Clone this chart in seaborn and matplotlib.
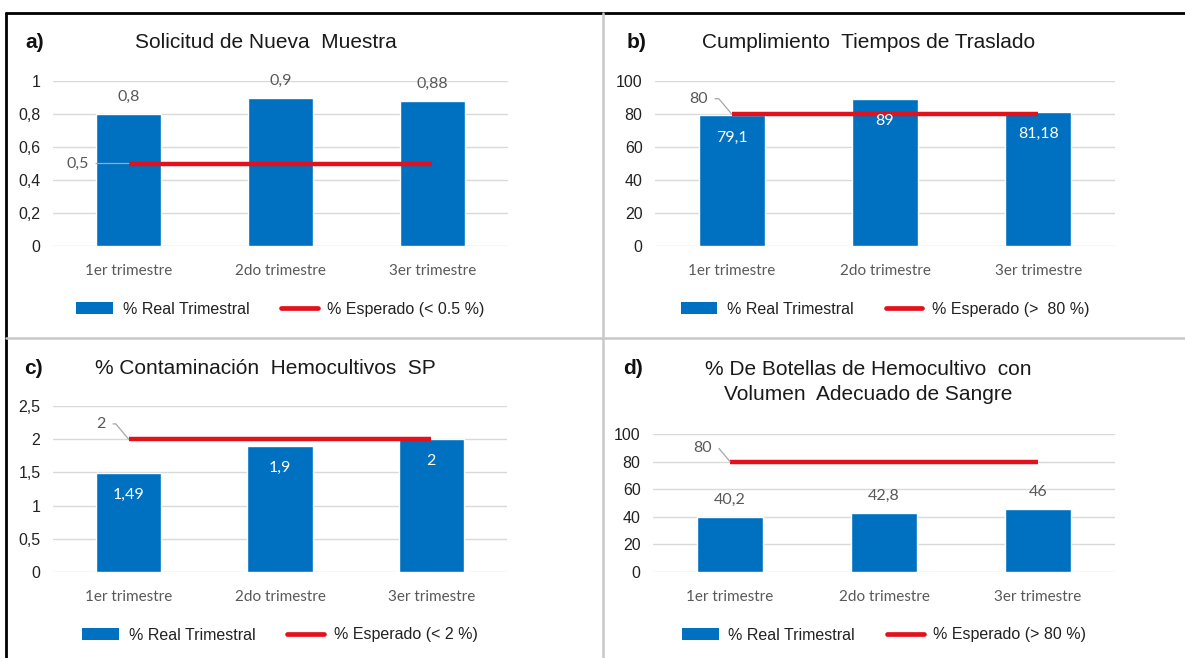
import matplotlib
matplotlib.use("Agg")
import matplotlib.pyplot as plt
from matplotlib.lines import Line2D
from matplotlib.patches import Patch
import seaborn as sns

# ---- data -------------------------------------------------------------
quarters = ["1er trimestre", "2do trimestre", "3er trimestre"]

real_a = [0.8, 0.9, 0.88]
target_a = [0.5, 0.5, 0.5]

real_b = [79.1, 89, 81.18]
target_b = [80, 80, 80]

real_c = [1.49, 1.9, 2]
target_c = [2, 2, 2]

real_d = [40.2, 42.8, 46]
target_d = [80, 80, 80]

titles = [
    "Solicitud de Nueva  Muestra",
    "Cumplimiento  Tiempos de Traslado",
    "% Contaminación  Hemocultivos  SP",
    "% De Botellas de Hemocultivo  con\nVolumen  Adecuado de Sangre",
]
panel_tags = ["a)", "b)", "c)", "d)"]
legend_real = "% Real Trimestral"
legend_target = ["% Esperado (< 0.5 %)", "% Esperado (>  80 %)",
                 "% Esperado (< 2 %)", "% Esperado (> 80 %)"]
yticks = [
    [0, 0.2, 0.4, 0.6, 0.8, 1],
    [0, 20, 40, 60, 80, 100],
    [0, 0.5, 1, 1.5, 2, 2.5],
    [0, 20, 40, 60, 80, 100],
]

# ---- style ------------------------------------------------------------
BLUE = "#0070C0"
RED = "#E3111B"
GRID = "#D9D9D9"
LABEL = "#595959"
LEADER = "#A6A6A6"
SANS = ["Liberation Sans", "DejaVu Sans"]
NUM = ["Lato", "DejaVu Sans"]

sns.set_theme(style="white")
plt.rcParams["font.family"] = SANS

W, H = 1185, 658
fig = plt.figure(figsize=(W / 100, H / 100), dpi=100)
fig.patch.set_facecolor("white")


def px_axes(x0, y0, x1, y1):
    return fig.add_axes([x0 / W, 1 - y1 / H, (x1 - x0) / W, (y1 - y0) / H])


def fmt(v):
    return f"{v:g}".replace(".", ",")


panels = [
    dict(real=real_a, target=target_a, box=(53, 81, 508, 246), inside=False,
         lead=(-37, 0), title_xy=(266, 42), tag_xy=(35, 42), legend_y=309),
    dict(real=real_b, target=target_b, box=(655, 81, 1115, 246), inside=True,
         lead=(-24, 11), title_xy=(869, 42), tag_xy=(637, 42), legend_y=309),
    dict(real=real_c, target=target_c, box=(53, 406, 507, 572), inside=True,
         lead=(-20, 11), title_xy=(265, 368), tag_xy=(33, 368), legend_y=635),
    dict(real=real_d, target=target_d, box=(653, 434, 1115, 572), inside=False,
         lead=(-20, 10), title_xy=(868, 382), tag_xy=(633, 368), legend_y=635),
]

for i, p in enumerate(panels):
    x0, y0, x1, y1 = p["box"]
    ax = px_axes(x0, y0, x1, y1)
    sns.barplot(x=quarters, y=p["real"], ax=ax, color=BLUE, saturation=1,
                width=0.43, zorder=2)
    ax.plot(range(len(quarters)), p["target"], color=RED, lw=3.2,
            solid_capstyle="butt", zorder=3)

    ticks = yticks[i]
    ax.set_ylim(ticks[0], ticks[-1])
    ax.set_xlim(-0.5, len(quarters) - 0.5)
    ax.set_yticks(ticks)
    ax.set_yticklabels([fmt(t) for t in ticks], fontsize=11.5, color="#222222",
                       family=SANS)
    ax.set_xticks(range(len(quarters)))
    ax.set_xticklabels(quarters, fontsize=11, color=LABEL, family=NUM)
    ax.tick_params(axis="x", length=0, pad=13)
    ax.tick_params(axis="y", length=0, pad=9)
    ax.set_xlabel("")
    ax.set_ylabel("")
    ax.grid(axis="y", color=GRID, lw=1, zorder=0)
    ax.set_axisbelow(True)
    for s in ax.spines.values():
        s.set_visible(False)

    # value labels on the bars
    if p["inside"]:
        ax.bar_label(ax.containers[0], labels=[fmt(v) for v in p["real"]],
                     padding=-21, color="white", fontsize=11.5, family=NUM)
    else:
        ax.bar_label(ax.containers[0], labels=[fmt(v) for v in p["real"]],
                     padding=7, color=LABEL, fontsize=11.5, family=NUM)

    # label for the expected value, with a leader line
    dx, dy = p["lead"]
    arrow = dict(arrowstyle="-", color=LEADER, lw=0.9, shrinkA=3, shrinkB=0)
    if dy != 0:
        arrow["connectionstyle"] = "angle,angleA=0,angleB=130,rad=0"
    ax.annotate(fmt(p["target"][0]), xy=(0, p["target"][0]),
                xytext=(dx, dy), textcoords="offset points",
                ha="center", va="center", color=LABEL, fontsize=11.5,
                family=NUM, annotation_clip=False, arrowprops=arrow)

    # legend under the axes
    handles = [Patch(facecolor=BLUE, edgecolor="none"),
               Line2D([0], [0], color=RED, lw=3.4)]
    leg_y = (y1 - p["legend_y"]) / (y1 - y0)
    ax.legend(handles, [legend_real, legend_target[i]], loc="center",
              bbox_to_anchor=(0.5, leg_y), ncol=2, frameon=False,
              fontsize=11.5, handlelength=2.3, handleheight=0.85,
              handletextpad=0.6, columnspacing=2.0, labelcolor="#222222")

    tx, ty = p["title_xy"]
    fig.text(tx / W, 1 - ty / H, titles[i], ha="center", va="center",
             fontsize=15, color="#1a1a1a", linespacing=1.45)
    gx, gy = p["tag_xy"]
    fig.text(gx / W, 1 - gy / H, panel_tags[i], ha="center", va="center",
             fontsize=15, fontweight="bold", color="#111111")

# panel frame and dividers
frame = [
    ((6, 1185), (13, 13), "black", 2.0),
    ((6, 6), (13, 658), "black", 2.0),
    ((603, 603), (13, 658), "#C8C8C8", 1.8),
    ((6, 1185), (338, 338), "#C8C8C8", 1.8),
]
for xs, ys, c, lw in frame:
    fig.add_artist(Line2D([x / W for x in xs], [1 - y / H for y in ys],
                          color=c, lw=lw, transform=fig.transFigure))

fig.savefig("out.png", dpi=100, facecolor="white")
